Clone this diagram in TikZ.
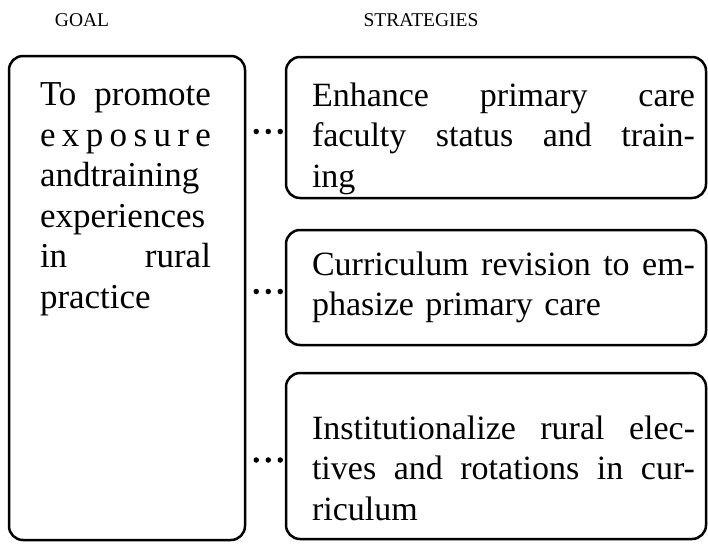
\documentclass[tikz,border=0pt]{standalone}
\usepackage{fontspec}
\setmainfont{Liberation Serif}
\usetikzlibrary{positioning}

% justified lines of fixed width
\newcommand{\gline}[1]{\makebox[171pt][s]{#1}}
\newcommand{\sline}[1]{\hspace*{15pt}\makebox[383pt][s]{\spaceskip=0pt #1}}
\newcommand{\slast}[1]{\hspace*{15pt}#1}
% taller first line pushes the text down in its box
\newcommand{\lift}[1]{\rule{0pt}{#1}}

\tikzset{
  frame/.style={draw, line width=2.5pt, rounded corners=14pt, inner sep=0pt},
  goalbox/.style={frame, minimum width=236pt, minimum height=484pt},
  stratbox/.style={frame, minimum width=420pt, text width=398pt, align=left,
    font=\fontsize{34}{40.5}\selectfont},
  head/.style={font=\fontsize{19.5}{22}\selectfont},
  dots/.style={line width=5.5pt, line cap=round, dash pattern=on 0pt off 12pt,
    shorten <=10pt, shorten >=2pt}
}

\begin{document}
\begin{tikzpicture}[x=1pt,y=1pt]
   \useasboundingbox (0,0) rectangle (708,-543);
   \node[head] (goalhead) at (82,-20) {GOAL};
   \node[head] (strathead) at (421,-20) {STRATEGIES};

   \node[goalbox] (goal) at (127,-298) {};
   \node[anchor=north, inner sep=0pt, align=left,
     font=\fontsize{35}{40.5}\selectfont] (goaltxt) at ([xshift=-1.5pt,yshift=-28pt]goal.north)
     {\gline{To promote}\\ \gline{e x p o s u r e}\\ \gline{andtraining}\\
      \gline{experiences}\\ \gline{in rural}\\ practice};

   \node[stratbox, minimum height=141pt] (enhance) at (496,-127.5)
     {\lift{46pt}\sline{Enhance primary care}\\ \sline{faculty status and train-}\\ \slast{ing}};
   \node[stratbox, minimum height=115pt] (revise) at (496,-287.5)
     {\sline{Curriculum revision to em-}\\ \slast{phasize primary care}};
   \node[stratbox, minimum height=166pt] (elective) at (496,-456)
     {\lift{48pt}\sline{Institutionalize rural elec-}\\ \sline{tives and rotations in cur-}\\ \slast{riculum}};

   \foreach \s in {enhance,revise,elective}
     \draw[dots] ([yshift=-4pt]goal.east |- \s.west) -- ([yshift=-4pt]\s.west);
\end{tikzpicture}
\end{document}
